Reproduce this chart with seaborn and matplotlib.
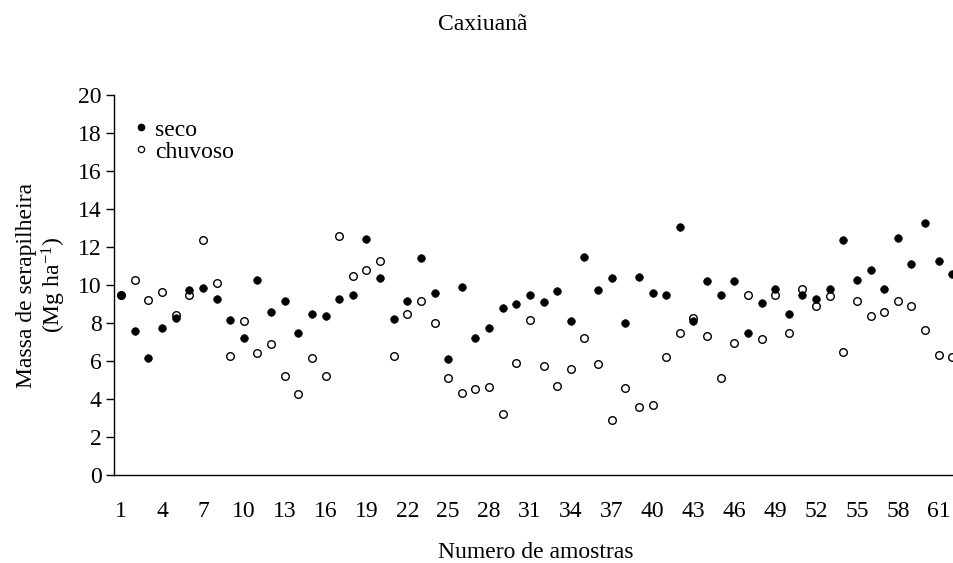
import numpy as np
import pandas as pd
import seaborn as sns
import matplotlib
matplotlib.use("Agg")
import matplotlib.pyplot as plt
from matplotlib.lines import Line2D

amostras = list(range(1, 63))
seco = [9.5, 7.56, 6.14, 7.74, 8.25, 9.75, 9.84, 9.28, 8.16, 7.23,
        10.28, 8.56, 9.16, 7.46, 8.49, 8.37, 9.26, 9.47, 12.44, 10.39,
        8.19, 9.14, 11.44, 9.60, 6.11, 9.88, 7.21, 7.74, 8.79, 9.02,
        9.49, 9.11, 9.70, 8.09, 11.46, 9.75, 10.35, 8.00, 10.42, 9.60,
        9.46, 13.03, 8.12, 10.21, 9.49, 10.21, 7.49, 9.05, 9.79, 8.46,
        9.47, 9.25, 9.79, 12.39, 10.25, 10.81, 9.79, 12.46, 11.12, 13.25,
        11.25, 10.56]
chuvoso = [9.47, 10.26, 9.21, 9.65, 8.42, 9.47, 12.35, 10.09, 6.26, 8.11,
           6.40, 6.91, 5.19, 4.26, 6.14, 5.19, 12.60, 10.49, 10.79, 11.28,
           6.28, 8.47, 9.16, 7.98, 5.12, 4.30, 4.54, 4.63, 3.21, 5.89,
           8.14, 5.75, 4.70, 5.60, 7.23, 5.84, 2.89, 4.60, 3.56, 3.68,
           6.21, 7.49, 8.26, 7.33, 5.09, 6.96, 9.47, 7.18, 9.46, 7.46,
           9.79, 8.89, 9.44, 6.47, 9.16, 8.37, 8.60, 9.18, 8.89, 7.61,
           6.33, 6.21]
xticks = list(range(1, 63, 3))
yticks = list(range(0, 21, 2))

df = pd.DataFrame({"amostra": amostras * 2,
                   "massa": seco + chuvoso,
                   "periodo": ["seco"] * 62 + ["chuvoso"] * 62})

sns.set_theme(style="white")
plt.rcParams["font.family"] = ["Liberation Serif", "DejaVu Serif"]
plt.rcParams["mathtext.fontset"] = "custom"
plt.rcParams["mathtext.rm"] = "Liberation Serif"
plt.rcParams["mathtext.it"] = "Liberation Serif:italic"
for key in ["text.color", "axes.labelcolor", "xtick.color", "ytick.color"]:
    plt.rcParams[key] = "black"

FS = 17

fig = plt.figure(figsize=(9.54, 5.63), dpi=100)
ax = fig.add_axes([114.3 / 954, 88 / 563, (954 - 114.3) / 954, 380 / 563])

sns.scatterplot(data=df[df.periodo == "chuvoso"], x="amostra", y="massa", ax=ax,
                color="white", edgecolor="black", linewidth=1.0, s=30, zorder=3,
                legend=False)
sns.scatterplot(data=df[df.periodo == "seco"], x="amostra", y="massa", ax=ax,
                color="black", edgecolor="black", linewidth=0.5, s=30, zorder=4,
                legend=False)

ax.set_xlim(0.5, 62.12)
ax.set_ylim(0, 20)
ax.set_xticks(xticks)
ax.set_xticklabels([str(t) for t in xticks], fontsize=FS)
ax.set_yticks(yticks)
ax.set_yticklabels([str(t) for t in yticks], fontsize=FS)
ax.tick_params(axis="x", length=0, pad=19)
ax.tick_params(axis="y", direction="out", length=6, width=1, color="black", pad=3, left=True)

for side in ["top", "right"]:
    ax.spines[side].set_visible(False)
for side in ["left", "bottom"]:
    ax.spines[side].set_color("black")
    ax.spines[side].set_linewidth(1.0)

ax.set_xlabel("Numero de amostras", fontsize=FS)
ax.xaxis.set_label_coords((536 - 114.3) / 839.7, -(552 - 475) / 380)
ax.xaxis.label.set_va("center")
ax.set_ylabel("Massa de serapilheira\n(Mg ha$^{-1}$)", fontsize=FS, linespacing=1.15)
ax.yaxis.set_label_coords((42 - 114.3) / 839.7, 0.5)
ax.yaxis.label.set_va("center")
ax.yaxis.label.set_ha("center")
fig.text(483 / 954, 1 - 24 / 563, "Caxiuanã", ha="center", va="center", fontsize=FS)

handles = [Line2D([], [], marker="o", linestyle="none", markerfacecolor="black",
                  markeredgecolor="black", markersize=4.5),
           Line2D([], [], marker="o", linestyle="none", markerfacecolor="white",
                  markeredgecolor="black", markeredgewidth=0.9, markersize=4.5)]
ax.legend(handles, ["seco", "chuvoso"], loc="upper left", frameon=False,
          fontsize=FS, handletextpad=0.15, handlelength=0.9, borderaxespad=0.0,
          borderpad=0.0, labelspacing=0.02,
          bbox_to_anchor=((130 - 114.3) / 839.7, 1 - (119 - 95) / 380))

fig.savefig("out.png", dpi=100)
